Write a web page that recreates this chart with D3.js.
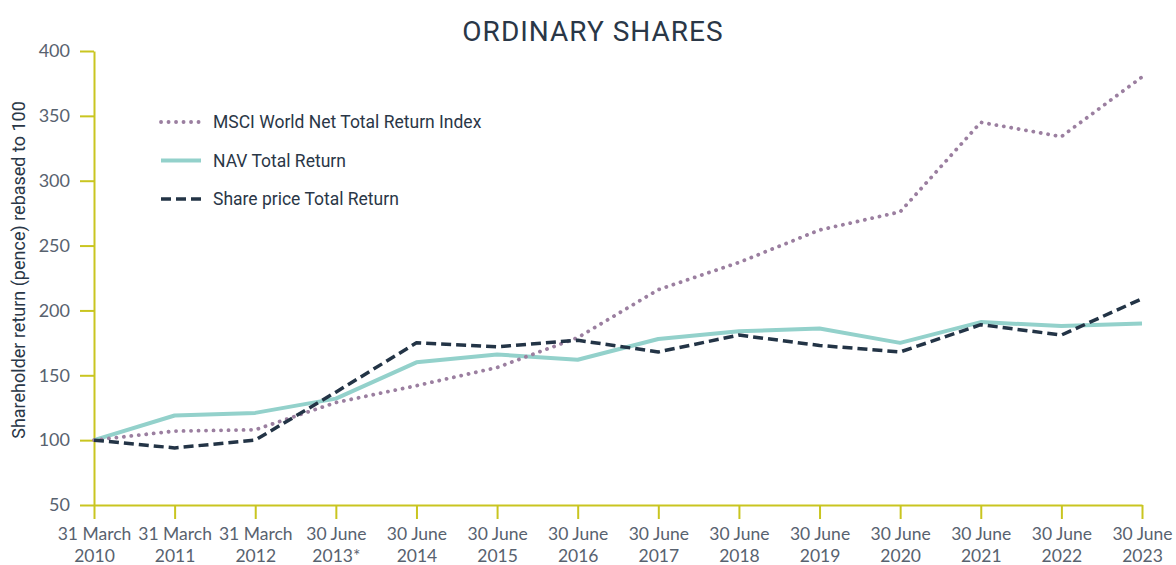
<!DOCTYPE html>
<html>
<head>
<meta charset="utf-8">
<script src="https://cdn.jsdelivr.net/npm/d3@7"></script>
<style>
  body { margin: 0; background: #fff; }
  svg { display: block; }
</style>
</head>
<body>
<div id="chart"></div>
<script>
// Data
var periods = ["31 March|2010", "31 March|2011", "31 March|2012", "30 June|2013*",
  "30 June|2014", "30 June|2015", "30 June|2016", "30 June|2017", "30 June|2018",
  "30 June|2019", "30 June|2020", "30 June|2021", "30 June|2022", "30 June|2023"];
var msci = [100, 107, 108, 129, 142, 156, 179, 216, 237, 262, 276, 345, 334, 380];
var nav = [100, 119, 121, 132, 160, 166, 162, 178, 184, 186, 175, 191, 188, 190];
var sharePrice = [100, 94, 100, 137, 175, 172, 177, 168, 181, 173, 168, 189, 181, 209];
var yTicks = [50, 100, 150, 200, 250, 300, 350, 400];

var width = 1176, height = 565;
var margin = { top: 51, right: 34, bottom: 60, left: 94 };

var svg = d3.select("#chart").append("svg")
  .attr("width", width)
  .attr("height", height);

var x = d3.scalePoint()
  .domain(d3.range(periods.length))
  .range([margin.left, width - margin.right]);

var y = d3.scaleLinear()
  .domain([50, 400])
  .range([height - margin.bottom, margin.top]);

var axisColor = "#c9c520";
var tickText = "#58626f";

// Title
svg.append("text")
  .attr("x", 593)
  .attr("y", 41)
  .attr("text-anchor", "middle")
  .style("font-family", "Roboto, sans-serif")
  .style("font-size", "28px")
  .style("letter-spacing", "1px")
  .style("fill", "#2a3747")
  .text("ORDINARY SHARES");

// Y axis
var yAxis = svg.append("g")
  .attr("transform", "translate(" + margin.left + ",0)")
  .call(d3.axisLeft(y).tickValues(yTicks).tickSize(14).tickPadding(10).tickSizeOuter(0));
yAxis.select(".domain").attr("stroke", axisColor).attr("stroke-width", 2);
yAxis.selectAll(".tick line").attr("stroke", axisColor).attr("stroke-width", 2);
yAxis.selectAll(".tick text")
  .style("font-family", "Lato, sans-serif")
  .style("font-size", "18px")
  .style("fill", tickText);

// X axis
var xAxis = svg.append("g")
  .attr("transform", "translate(0," + y(50) + ")")
  .call(d3.axisBottom(x).tickSize(14).tickSizeOuter(0).tickFormat(""));
xAxis.select(".domain").attr("stroke", axisColor).attr("stroke-width", 2);
xAxis.selectAll(".tick line").attr("stroke", axisColor).attr("stroke-width", 2);
xAxis.selectAll(".tick").each(function (d) {
  var parts = periods[d].split("|");
  var t = d3.select(this).append("text")
    .attr("text-anchor", "middle")
    .style("font-family", "Lato, sans-serif")
    .style("font-size", "17.5px")
    .style("fill", tickText);
  t.append("tspan").attr("x", 0).attr("y", 35).text(parts[0]);
  t.append("tspan").attr("x", 0).attr("y", 57).text(parts[1]);
});

// Y axis label
svg.append("text")
  .attr("transform", "translate(25," + 270 + ") rotate(-90)")
  .attr("text-anchor", "middle")
  .style("font-family", "Roboto, sans-serif")
  .style("font-size", "18px")
  .style("fill", "#2a3747")
  .text("Shareholder return (pence) rebased to 100");

var series = [
  { name: "MSCI World Net Total Return Index", values: msci, color: "#9b7fa0", width: 3.8, dash: "0.1,7.4", cap: "round" },
  { name: "NAV Total Return", values: nav, color: "#93d1cb", width: 4, dash: null, cap: "butt" },
  { name: "Share price Total Return", values: sharePrice, color: "#233446", width: 3.5, dash: "10,5", cap: "butt" }
];

var line = d3.line()
  .x(function (d, i) { return x(i); })
  .y(function (d) { return y(d); });

// draw order: NAV under, then MSCI, then share price
[1, 0, 2].forEach(function (k) {
  var s = series[k];
  svg.append("path")
    .datum(s.values)
    .attr("fill", "none")
    .attr("stroke", s.color)
    .attr("stroke-width", s.width)
    .attr("stroke-dasharray", s.dash)
    .attr("stroke-linecap", s.cap)
    .attr("stroke-linejoin", "round")
    .attr("d", line);
});

// Legend
var legend = svg.append("g").attr("transform", "translate(161,122)");
series.forEach(function (s, i) {
  var g = legend.append("g").attr("transform", "translate(0," + (i * 38.5) + ")");
  g.append("line")
    .attr("x1", 0).attr("x2", 40)
    .attr("y1", 0).attr("y2", 0)
    .attr("stroke", s.color)
    .attr("stroke-width", s.width)
    .attr("stroke-dasharray", s.dash)
    .attr("stroke-linecap", s.cap);
  g.append("text")
    .attr("x", 52)
    .attr("y", 6)
    .style("font-family", "Roboto, sans-serif")
    .style("font-size", "17.5px")
    .style("fill", "#2a3747")
    .text(s.name);
});
</script>
</body>
</html>
